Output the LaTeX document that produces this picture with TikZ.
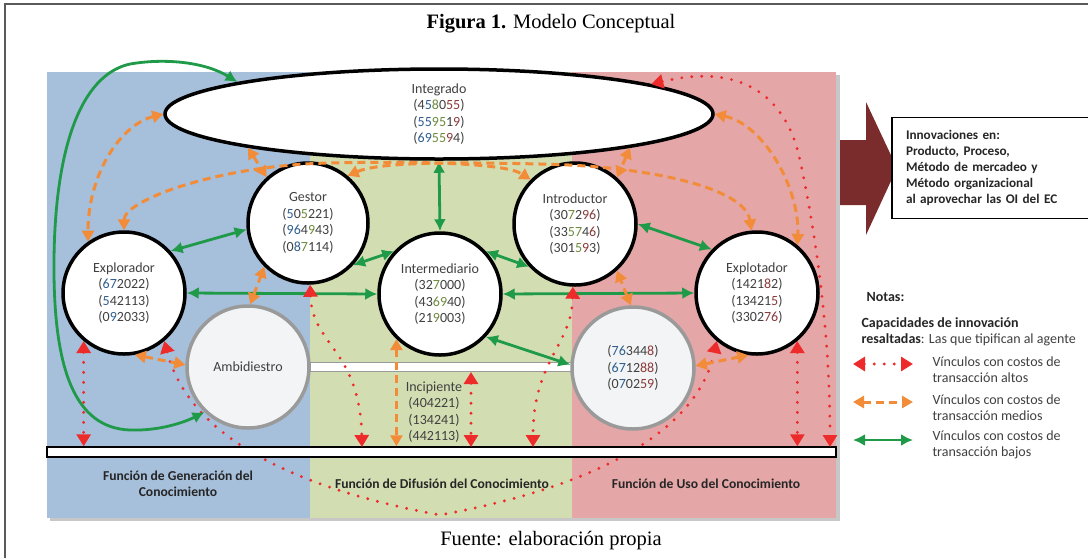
\documentclass[tikz,border=0pt]{standalone}
\usepackage{fontspec}
\setmainfont{Liberation Serif}
\newfontfamily\carl{Carlito}
\usetikzlibrary{arrows.meta,shapes.geometric}
\definecolor{bgB}{HTML}{A6BFDB}
\definecolor{bgG}{HTML}{D2DEB2}
\definecolor{bgR}{HTML}{E4A6A7}
\definecolor{dB}{HTML}{2F5F8F}
\definecolor{dG}{HTML}{6E8B3D}
\definecolor{dR}{HTML}{8B3A3A}
\definecolor{txt}{HTML}{404040}
\definecolor{lgreen}{HTML}{1F9A48}
\definecolor{lorange}{HTML}{F28C38}
\definecolor{lred}{HTML}{EE2B2B}
\definecolor{darr}{HTML}{7A2B2B}
\definecolor{gcirc}{HTML}{9A9A9A}
\definecolor{gfill}{HTML}{F3F4F5}
\newcommand{\digB}[1]{\textcolor{dB}{#1}}
\newcommand{\digG}[1]{\textcolor{dG}{#1}}
\newcommand{\digR}[1]{\textcolor{dR}{#1}}
\pgfdeclarelayer{back}
\pgfdeclarelayer{mid}
\pgfsetlayers{back,mid,main}
\begin{document}
\begin{tikzpicture}[x=1pt,y=-1pt,
  lbl/.style={font=\carl\fontsize{14}{16.5}\selectfont, text=txt, align=center},
  circ/.style={circle, draw=black, line width=3.5pt, fill=white, minimum size=122pt, inner sep=0pt, lbl},
  gcirc/.style={circle, draw=gcirc, line width=3.5pt, fill=gfill, minimum size=122pt, inner sep=0pt, lbl},
  gline/.style={draw=lgreen, line width=2.8pt, {Latex[length=12pt,width=12pt]}-{Latex[length=12pt,width=12pt]}},
  oline/.style={draw=lorange, line width=3pt, dash pattern=on 8pt off 5pt, {Triangle[length=11pt,width=12pt]}-{Triangle[length=11pt,width=12pt]}},
  rline/.style={draw=lred, line width=3.2pt, line cap=round, dash pattern=on 0pt off 10pt, {Triangle[length=12pt,width=14pt]}-{Triangle[length=12pt,width=14pt]}},
  funlbl/.style={font=\carl\bfseries\fontsize{13.6}{16}\selectfont, text=black!85, align=center},
  legtxt/.style={font=\carl\fontsize{14}{16}\selectfont, text=txt, anchor=west, align=left}
]
\useasboundingbox (0,0) rectangle (1088,558);
\begin{pgfonlayer}{back}
\fill[white] (0,0) rectangle (1088,558);
\fill[black!22] (50,75) rectangle (840,521);
\fill[bgB] (47,72) rectangle (310,518);
\fill[bgG] (310,72) rectangle (572,518);
\fill[bgR] (572,72) rectangle (836,518);
\end{pgfonlayer}
\draw[black!65, line width=1.2pt] (5,558) -- (5,4) -- (1088,4);

% title and source
\node[font=\fontsize{20.5}{24}\selectfont] (title) at (551,24) {\textbf{Figura 1.} Modelo Conceptual};
\node[font=\fontsize{20.5}{24}\selectfont] (fuente) at (551,541) {Fuente: elaboración propia};

% function labels
\node[funlbl] (fgen) at (178,484) {Función de Generación del\\Conocimiento};
\node[funlbl] (fdif) at (442,484) {Función de Difusión del Conocimiento};
\node[funlbl] (fuso) at (706,484) {Función de Uso del Conocimiento};

% output arrow and box
\fill[darr] (840,140) -- (866,140) -- (866,102) -- (897,168) -- (866,235) -- (866,205) -- (840,205) -- cycle;
\node[draw=black, line width=1.3pt, fill=white, minimum width=192pt, minimum height=101pt, text width=170pt, inner xsep=14pt, align=left, font=\carl\bfseries\fontsize{13.2}{16}\selectfont, text=black!85] (outbox) at (991,168) {Innovaciones en:\\Producto, Proceso,\\Método de mercadeo y\\Método organizacional\\al aprovechar las OI del EC};

% notes
\node[font=\carl\bfseries\fontsize{14}{16}\selectfont, text=black!85, anchor=west] (notas) at (863,297) {Notas:};
\node[font=\carl\fontsize{14}{16.5}\selectfont, text=txt, anchor=west, align=left] (capac) at (858,332) {\textbf{\textcolor{black!85}{Capacidades de innovación}}\\\textbf{\textcolor{black!85}{resaltadas}}: Las que tipifican al agente};
\node[legtxt] (t1) at (929,370) {Vínculos con costos de\\transacción altos};
\node[legtxt] (t2) at (929,408) {Vínculos con costos de\\transacción medios};
\node[legtxt] (t3) at (929,445) {Vínculos con costos de\\transacción bajos};
\coordinate (l1a) at (853,364); \coordinate (l1b) at (913,364);
\coordinate (l2a) at (853,402); \coordinate (l2b) at (913,402);
\coordinate (l3a) at (853,440); \coordinate (l3b) at (913,440);
\draw[rline] (l1a) -- (l1b);
\draw[oline] (l2a) -- (l2b);
\draw[gline] (l3a) -- (l3b);

% bars
\node[draw=black, line width=1.5pt, fill=white, minimum width=789pt, minimum height=10pt, inner sep=0pt] (bar) at (441.5,452) {};
\node[draw=gcirc, line width=1pt, fill=white, minimum width=262pt, minimum height=9pt, inner sep=0pt] (mbar) at (441,367) {};

% nodes
\node[ellipse, draw=black, line width=3.5pt, fill=white, minimum width=548pt, minimum height=90pt, inner sep=0pt, lbl] (integ) at (439,114)
  {Integrado\\(4\digB{5}\digG{8}0\digR{55})\\(\digB{55}\digG{95}1\digR{9})\\(\digB{69}\digG{55}\digR{9}4)};
\node[circ, minimum size=120pt] (gestor) at (308,223) {Gestor\\(\digB{5}0\digG{5}221)\\(\digB{96}4\digG{9}43)\\(0\digB{8}\digG{7}114)};
\node[circ] (intro) at (575,224) {Introductor\\(30\digG{7}2\digR{96})\\(33\digG{57}4\digR{6})\\(301\digG{5}\digR{9}3)};
\node[circ] (inter) at (440,294) {Intermediario\\(32\digG{7}000)\\(43\digG{69}40)\\(21\digG{9}003)};
\node[circ] (explor) at (124,293) {Explorador\\(\digB{67}2022)\\(\digB{5}42113)\\(0\digB{9}2033)};
\node[circ] (explot) at (757,293) {Explotador\\(1421\digR{8}2)\\(13421\digR{5})\\(3302\digR{76})};
\node[gcirc] (ambi) at (248,367) {Ambidiestro};
\node[gcirc] (rc) at (633,368) {(\digB{76}344\digR{8})\\(\digB{67}12\digR{88})\\(0\digB{7}02\digR{59})};
\node[lbl] (incip) at (434,412) {Incipiente\\(404221)\\(134241)\\(442113)};

% bar end points
\coordinate (bR) at (830,447);
\coordinate (bG) at (362,447);
\coordinate (bI) at (533,447);
\coordinate (bC) at (471,447);
\coordinate (mC) at (471,372);

% red dotted U curve (behind bottom bar)
\begin{pgfonlayer}{mid}
\draw[rline] (explor.310) .. controls (185,420) and (260,482) .. (440,515) .. controls (620,482) and (700,420) .. (explot.230);
\end{pgfonlayer}

% green links
\draw[gline] (integ.171) .. controls (205,62) and (165,58) .. (130,64) .. controls (80,75) and (55,150) .. (54,260) .. controls (53,370) and (75,428) .. (130,430) .. controls (160,431) and (185,422) .. (ambi.226);
\draw[gline] (explor.42) -- (gestor.186);
\draw[gline] (gestor.317) -- (inter.137);
\draw[gline] (inter.43) -- (intro.223);
\draw[gline] (intro.0) -- (explot.136);
\draw[gline] (integ.south) -- (inter.north);
\draw[gline] (explor.east) -- (inter.west);
\draw[gline] (inter.east) -- (explot.west);
\draw[gline] (inter.317) -- (rc.177);

% orange links
\draw[oline] (integ.west) .. controls (120,125) and (88,175) .. (explor.125);
\draw[oline] (explor.90) .. controls (124,200) and (220,165) .. (330,163) .. controls (420,161) and (505,163) .. (intro.135);
\draw[oline] (gestor.50) .. controls (380,162) and (450,162) .. (540,164) .. controls (650,166) and (745,188) .. (explot.95);
\draw[oline] (integ.east) .. controls (765,125) and (800,190) .. (explot.50);
\draw[oline] (integ.190) -- (gestor.132);
\draw[oline] (integ.350) -- (intro.48);
\draw[oline] (ambi.88) -- (gestor.225);
\draw[oline] (explor.280) -- (ambi.178);
\draw[oline] (rc.92) -- (intro.312);
\draw[oline] (rc.2) -- (explot.262);
\draw[oline] (inter.226) -- (inter.226 |- bar.north);

% red links
\draw[rline] (integ.8) .. controls (735,64) and (785,90) .. (800,160) .. controls (815,230) and (830,330) .. (bR);
\draw[rline] (explor.230) -- (explor.230 |- bar.north);
\draw[rline] (explot.310) -- (explot.310 |- bar.north);
\draw[rline] (gestor.272) .. controls (312,345) and (360,350) .. (bG);
\draw[rline] (intro.268) .. controls (572,345) and (533,360) .. (bI);
\draw[rline] (mC) -- (bC);
\end{tikzpicture}
\end{document}
